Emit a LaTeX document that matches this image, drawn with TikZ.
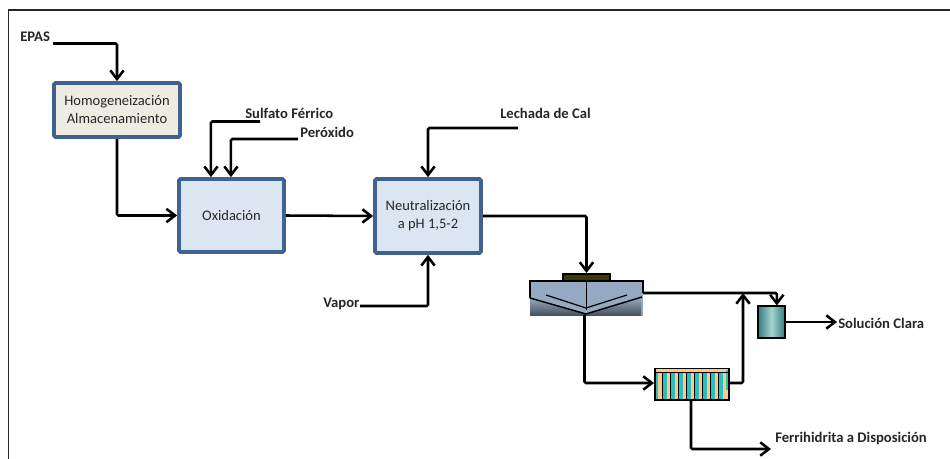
\documentclass[tikz,border=0pt]{standalone}
\usepackage{fontspec}
\setmainfont{Carlito}
\usetikzlibrary{arrows.meta}
\definecolor{boxedge}{HTML}{3F6290}
\definecolor{bluefill}{HTML}{DCE6F2}
\definecolor{creamfill}{HTML}{EEECE1}
\definecolor{settle}{HTML}{95AAC2}
\definecolor{settledark}{HTML}{444E5A}
\definecolor{lid}{HTML}{3D3A0A}
\definecolor{tealdark}{HTML}{2F7C7C}
\definecolor{teallight}{HTML}{A6D2CF}
\definecolor{cyanbar}{HTML}{2EBDBD}
\definecolor{peach}{HTML}{FBC88E}
\tikzset{
  x=0.75pt,y=-0.75pt,
  flow/.style={line width=1.9pt,-{Straight Barb[length=6.5pt,width=10pt,line width=1.9pt]},rounded corners=1pt},
  process/.style={draw=boxedge,line width=2.8pt,rounded corners=1.2pt,align=center,inner sep=0pt,font=\fontsize{10.9}{13.5}\selectfont,text=black!85},
  lbl/.style={font=\bfseries\fontsize{11}{13}\selectfont,text=black!85,inner sep=0pt},
}
\begin{document}
\begin{tikzpicture}
\useasboundingbox (0,0) rectangle (950,459);
\draw[line width=0.9pt,black!85] (8.5,459) -- (8.5,10) -- (950,10);

\node[process,fill=creamfill,minimum width=94.5pt,minimum height=40.5pt] (homog) at (117,110) {Homogeneización\\Almacenamiento};
\node[process,fill=bluefill,minimum width=78.75pt,minimum height=54.75pt] (oxid) at (231.5,215.5) {Oxidación};
\node[process,fill=bluefill,minimum width=79.5pt,minimum height=55.5pt] (neut) at (428,216) {\raisebox{-1pt}{Neutralización}\\\raisebox{-1pt}{a pH 1,5-2}};

\node[lbl,anchor=west] (epas) at (20,36.5) {EPAS};
\node[lbl,anchor=west] (sulf) at (245,113) {Sulfato Férrico};
\node[lbl,anchor=west] (perox) at (300,132) {Peróxido};
\node[lbl,anchor=west] (lech) at (500,113) {Lechada de Cal};
\node[lbl,anchor=west] (vapor) at (323,304) {Vapor};
\node[lbl,anchor=west] (clara) at (838,323.5) {Solución Clara};
\node[lbl,anchor=west] (ferri) at (775,439) {Ferrihidrita a Disposición};

% settler
\coordinate (settlerin) at (586.5,273);
\coordinate (settlerover) at (643,293);
\coordinate (settlerbot) at (584.5,315);
\fill[settle] (530,281) rectangle (643,316);
\shade[bottom color=settledark,top color=settle] (530,298) -- (586,314) -- (641,298) -- (641,316) -- (530,316) -- cycle;
\draw[line width=1.3pt,fill=lid] (563,274) rectangle (610,281);
\draw[line width=1.3pt] (530,298) -- (530,281) -- (643,281) -- (643,293);
\draw[line width=1.1pt] (530,298) -- (586,314) -- (642,297);
\draw[line width=0.9pt] (546,295) -- (586,308) -- (627,295);
\draw[line width=0.9pt] (586.5,281) -- (586.5,310);

% filter press
\coordinate (pressin) at (654,383);
\coordinate (pressout) at (729,383);
\coordinate (pressbot) at (691,400);
\fill[peach] (655,368) rectangle (729,400);
\fill[cyanbar] (656,372) rectangle (658,399);
\foreach \xx in {663,671,679,687,695,703,711,719}
  \fill[cyanbar] (\xx,372) rectangle (\xx+3.6,399);
\fill[cyanbar] (726,370) rectangle (728,390);
\foreach \xx in {662.5,670.5,678.5,686.5,694.5,702.5,710.5,718.5}
  \draw[line width=0.5pt] (\xx,373) -- (\xx,400);
\draw[line width=1.3pt] (655,368.5) rectangle (729,400);
\draw[line width=0.9pt] (655,372.5) -- (729,372.5);

% clarifier tank
\node[draw,line width=1.3pt,minimum width=20.5pt,minimum height=23.5pt,inner sep=0pt,left color=tealdark,right color=tealdark,middle color=teallight] (tank) at (771.5,322) {};

\coordinate (epasout) at (53,43.5);
\coordinate (sulfout) at (260,121.5);
\coordinate (peroxout) at (298,139);
\coordinate (lechout) at (518,128);
\coordinate (vaporout) at (360,306);
\coordinate (clarain) at (837,322);
\coordinate (ferriin) at (771,449);
\coordinate (pj) at (743,293);

\draw[flow] (epasout) -| (homog.north);
\draw[flow] (homog.south) |- (oxid.west);
\draw[flow] (sulfout) -| ([xshift=-15.4pt]oxid.north);
\draw[flow] (peroxout) -| ([xshift=-0.4pt]oxid.north);
\draw[flow] (oxid.east) -- (neut.west);
\draw[flow] (lechout) -| (neut.north);
\draw[flow] (vaporout) -| (neut.south);
\draw[flow] (neut.east) -| (settlerin);
\draw[flow] (settlerover) -| ([xshift=4pt]tank.north);
\draw[flow] (settlerbot) |- (pressin);
\draw[flow] (pressout) -| (pj);
\draw[flow] (tank.east) -- (clarain);
\draw[flow] (pressbot) |- (ferriin);
\end{tikzpicture}
\end{document}
